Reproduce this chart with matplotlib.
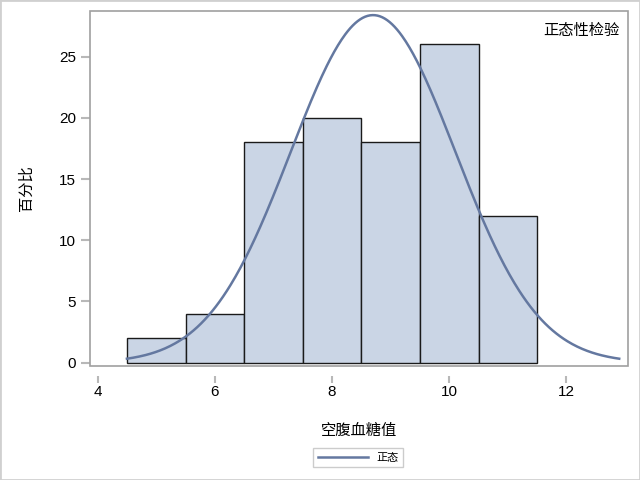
import numpy as np
import matplotlib
matplotlib.use("Agg")
import matplotlib.pyplot as plt
from matplotlib.patches import Rectangle

plt.rcParams['font.family'] = ['Liberation Sans', 'Noto Sans CJK SC', 'DejaVu Sans']

# histogram data (percent per bin)
bin_mids = [5, 6, 7, 8, 9, 10, 11]
percents = [2, 4, 18, 20, 18, 26, 12]
bin_width = 1.0

# fitted normal
mu = 8.70
sigma = 1.405
curve_start, curve_end = 4.5, 12.9

fig = plt.figure(figsize=(6.4, 4.8), dpi=100)
ax = fig.add_axes([90/640, 1 - 366/480, (628-90)/640, (366-11)/480])

ax.bar(bin_mids, percents, width=bin_width, color='#cad5e5', edgecolor='#1a1a1a', linewidth=1.0, zorder=2)

xs = np.linspace(curve_start, curve_end, 400)
ys = 100 * bin_width / (sigma * np.sqrt(2 * np.pi)) * np.exp(-0.5 * ((xs - mu) / sigma) ** 2)
ax.plot(xs, ys, color='#6478a0', linewidth=1.8, zorder=3)

ax.set_xlim(3.87, 13.05)
ax.set_ylim(-0.27, 28.73)
ax.set_xticks([4, 6, 8, 10, 12])
ax.set_yticks([0, 5, 10, 15, 20, 25])

# frame drawn separately, x ticks sit a little below it
for s in ax.spines.values():
    s.set_visible(False)
ax.add_patch(Rectangle((0, 0), 1, 1, transform=ax.transAxes, fill=False,
                       edgecolor='#a0a0a0', linewidth=1.2, zorder=5, clip_on=False))
ax.spines['bottom'].set_position(('outward', 7.2))
ax.spines['bottom'].set_visible(True)
ax.spines['bottom'].set_color('none')

ax.tick_params(colors='#b8b8b8', labelcolor='black', labelsize=11, width=1.5)
ax.tick_params(axis='x', length=5, pad=1.5)
ax.tick_params(axis='y', length=6.5, pad=3.5)
ax.set_xlabel('空腹血糖值', fontsize=11, labelpad=18)
ax.set_ylabel('百分比', fontsize=11, labelpad=18)
ax.text(0.985, 0.965, '正态性检验', transform=ax.transAxes, ha='right', va='top', fontsize=11)

leg = fig.legend(['正态'], loc='lower center', bbox_to_anchor=(0.560, 0.015), frameon=True,
                 fontsize=8, handlelength=4.5, fancybox=False, borderpad=0.4)
leg.get_frame().set_edgecolor('#c0c0c0')
leg.get_frame().set_linewidth(1)

fig.patches.append(Rectangle((0, 0), 1, 1, transform=fig.transFigure, fill=False,
                             edgecolor='#d0d0d0', linewidth=2))

fig.savefig('out.png', dpi=100)
